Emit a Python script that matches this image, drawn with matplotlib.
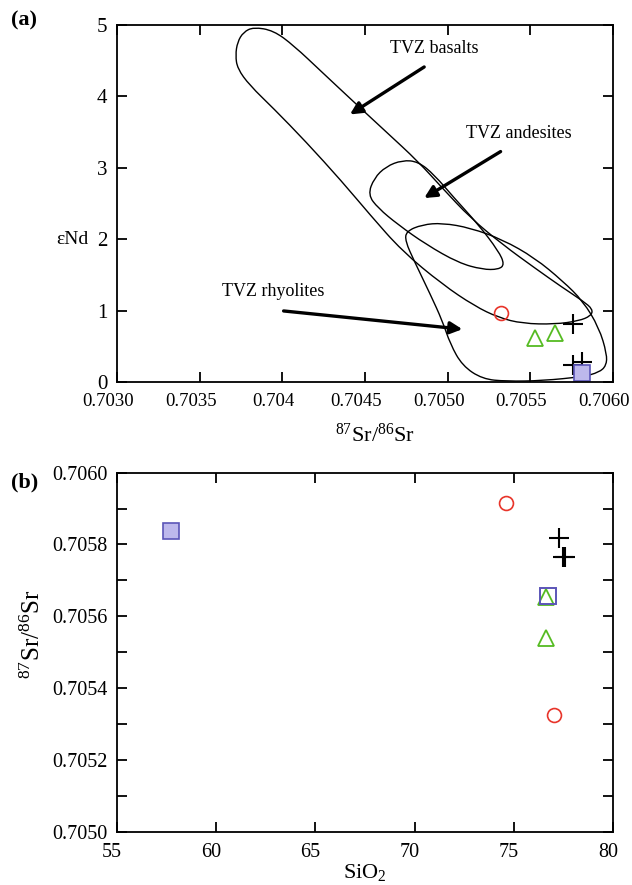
import matplotlib
matplotlib.use("Agg")
import matplotlib.pyplot as plt
from matplotlib.path import Path
from matplotlib.patches import PathPatch
from matplotlib.transforms import ScaledTranslation

plt.rcParams['font.family'] = ['Liberation Serif', 'DejaVu Serif']
plt.rcParams['mathtext.fontset'] = 'custom'
plt.rcParams['mathtext.rm'] = 'Liberation Serif'
plt.rcParams['mathtext.it'] = 'Liberation Serif:italic'

# --- panel (a) data: eNd vs 87Sr/86Sr ---
circ_sr = [0.70532]
circ_nd = [0.975]
tri_sr = [0.70553, 0.70565]
tri_nd = [0.62, 0.69]
plus_sr = [0.70576, 0.70576, 0.70581]
plus_nd = [0.81, 0.24, 0.29]
sq_sr = [0.70581]
sq_nd = [0.125]

# field outlines (control points)
bas_sr = [0.703826, 0.703947, 0.704069, 0.704239, 0.704433, 0.704627, 0.704822,
          0.704968, 0.705138, 0.705332, 0.705526, 0.705696, 0.705818, 0.705878,
          0.705866, 0.705793, 0.705648, 0.705453, 0.705308, 0.705162, 0.704968,
          0.704725, 0.704530, 0.704360, 0.704142, 0.703947, 0.703802, 0.703729,
          0.703717, 0.703729, 0.703765]
bas_nd = [4.967, 4.92, 4.71, 4.34, 3.92, 3.505, 3.087, 2.716, 2.298, 1.927, 1.60,
          1.323, 1.137, 1.021, 0.929, 0.859, 0.812, 0.822, 0.905, 1.068, 1.37,
          1.834, 2.344, 2.81, 3.366, 3.83, 4.155, 4.387, 4.573, 4.759, 4.898]
rhy_sr = [0.704749, 0.704846, 0.704968, 0.705138, 0.705332, 0.705526, 0.705696,
          0.705818, 0.705915, 0.705963, 0.705959, 0.705915, 0.705818, 0.705575,
          0.705356, 0.705210, 0.705089, 0.705016, 0.704968, 0.704895, 0.704798,
          0.704744]
rhy_nd = [2.112, 2.205, 2.228, 2.159, 1.996, 1.741, 1.416, 1.137, 0.766, 0.395,
          0.232, 0.139, 0.079, 0.023, 0.014, 0.046, 0.232, 0.534, 0.859, 1.23,
          1.695, 1.973]
and_sr = [0.704518, 0.704555, 0.704627, 0.704725, 0.704822, 0.704919, 0.705040,
          0.705186, 0.705308, 0.705344, 0.705308, 0.705210, 0.705065, 0.704870,
          0.704700, 0.704579]
and_nd = [2.623, 2.855, 3.018, 3.106, 3.087, 2.902, 2.577, 2.205, 1.834, 1.648,
          1.578, 1.578, 1.671, 1.927, 2.205, 2.437]

a_xticks = [0.7030, 0.7035, 0.7040, 0.7045, 0.7050, 0.7055, 0.7060]
a_xlabels = ['0.7030', '0.7035', '0.704', '0.7045', '0.7050', '0.7055', '0.7060']

# --- panel (b) data: 87Sr/86Sr vs SiO2 ---
b_circ_si = [74.6, 77.05]
b_circ_sr = [0.705914, 0.705326]
b_tri_si = [76.6, 76.6]
b_tri_sr = [0.705654, 0.705540]
b_plus_si = [77.3, 77.5, 77.6]
b_plus_sr = [0.705817, 0.705764, 0.705766]
b_sq_si = [57.7]
b_sq_sr = [0.705838]
b_osq_si = [76.7]
b_osq_sr = [0.705656]


def smooth_outline(ax, xs, ys):
    n = len(xs)
    mid = [((xs[i] + xs[(i + 1) % n]) / 2, (ys[i] + ys[(i + 1) % n]) / 2) for i in range(n)]
    verts = [mid[-1]]
    codes = [Path.MOVETO]
    for i in range(n):
        verts += [(xs[i], ys[i]), mid[i]]
        codes += [Path.CURVE3, Path.CURVE3]
    ax.add_patch(PathPatch(Path(verts, codes), fill=False, lw=1.0, ec='k'))


def shift_xlabels(fig, ax, dx_px):
    off = ScaledTranslation(dx_px / fig.dpi, 0, fig.dpi_scale_trans)
    for lab in ax.get_xticklabels():
        lab.set_transform(lab.get_transform() + off)


red = '#e8342a'
green = '#55bb22'
sq_face = '#bdb8ec'
sq_edge = '#5b55b8'

fig = plt.figure(figsize=(6.32, 8.85), dpi=100)
ax1 = fig.add_axes([0.185, 0.568, 0.785, 0.404])
ax2 = fig.add_axes([0.185, 0.060, 0.785, 0.406])

for xs, ys in [(bas_sr, bas_nd), (rhy_sr, rhy_nd), (and_sr, and_nd)]:
    smooth_outline(ax1, xs, ys)

ax1.plot(circ_sr, circ_nd, 'o', ms=10, mfc='none', mec=red, mew=1.2)
ax1.plot(tri_sr, tri_nd, '^', ms=12, mfc='none', mec=green, mew=1.3)
ax1.plot(plus_sr, plus_nd, '+', ms=14, color='k', mew=1.5)
ax1.plot(sq_sr, sq_nd, 's', ms=12, mfc=sq_face, mec=sq_edge, mew=1.2)

arrow = dict(arrowstyle='-|>', lw=2.4, color='k', mutation_scale=18, shrinkA=0, shrinkB=0)
ax1.annotate('', xy=(0.704409, 3.746), xytext=(0.704858, 4.41), arrowprops=arrow)
ax1.annotate('', xy=(0.704858, 2.577), xytext=(0.705320, 3.227), arrowprops=arrow)
ax1.annotate('', xy=(0.705089, 0.743), xytext=(0.704008, 0.998), arrowprops=arrow)
ax1.text(0.704919, 4.666, 'TVZ basalts', ha='center', va='center', fontsize=13)
ax1.text(0.705429, 3.482, 'TVZ andesites', ha='center', va='center', fontsize=13)
ax1.text(0.703947, 1.277, 'TVZ rhyolites', ha='center', va='center', fontsize=13)

ax1.set_xlim(0.7030, 0.7060)
ax1.set_ylim(0, 5)
ax1.set_xticks(a_xticks)
ax1.set_xticklabels(a_xlabels)
ax1.set_yticks([0, 1, 2, 3, 4, 5])
ax1.set_xlabel('$^{87}$Sr/$^{86}$Sr', fontsize=16, labelpad=3)
ax1.xaxis.set_label_coords(0.52, -0.115)
ax1.set_ylabel('εNd', fontsize=14, rotation=0, va='center')
ax1.yaxis.set_label_coords(-0.09, 0.40)

ax2.plot(b_circ_si, b_circ_sr, 'o', ms=10, mfc='none', mec=red, mew=1.2)
ax2.plot(b_tri_si, b_tri_sr, '^', ms=12, mfc='none', mec=green, mew=1.3)
ax2.plot(b_plus_si, b_plus_sr, '+', ms=14, color='k', mew=1.5)
ax2.plot(b_sq_si, b_sq_sr, 's', ms=12, mfc=sq_face, mec=sq_edge, mew=1.2)
ax2.plot(b_osq_si, b_osq_sr, 's', ms=11, mfc='none', mec=sq_edge, mew=1.4)

ax2.set_xlim(55, 80)
ax2.set_ylim(0.7050, 0.7060)
ax2.set_xticks([55, 60, 65, 70, 75, 80])
ax2.set_yticks([0.7050, 0.7052, 0.7054, 0.7056, 0.7058, 0.7060])
ax2.set_yticks([0.7051, 0.7053, 0.7055, 0.7057, 0.7059], minor=True)
ax2.yaxis.set_major_formatter(matplotlib.ticker.FormatStrFormatter('%.4f'))
ax2.set_xlabel('SiO$_2$', fontsize=16, labelpad=0)
ax2.set_ylabel('$^{87}$Sr/$^{86}$Sr', fontsize=18)
ax2.yaxis.set_label_coords(-0.145, 0.55)

for ax in (ax1, ax2):
    ax.tick_params(which='both', direction='in', top=True, right=True, labelsize=13.5,
                   length=7, width=1.3)
    ax.tick_params(axis='x', pad=8)
    ax.tick_params(axis='y', pad=7)
    for s in ax.spines.values():
        s.set_linewidth(1.3)
ax2.tick_params(labelsize=14.5)
ax1.tick_params(axis='y', labelsize=15)

shift_xlabels(fig, ax1, -9)
shift_xlabels(fig, ax2, -5)

fig.text(0.018, 0.977, '(a)', fontsize=16, fontweight='bold', va='center')
fig.text(0.018, 0.455, '(b)', fontsize=16, fontweight='bold', va='center')

fig.savefig('out.png', dpi=100)
